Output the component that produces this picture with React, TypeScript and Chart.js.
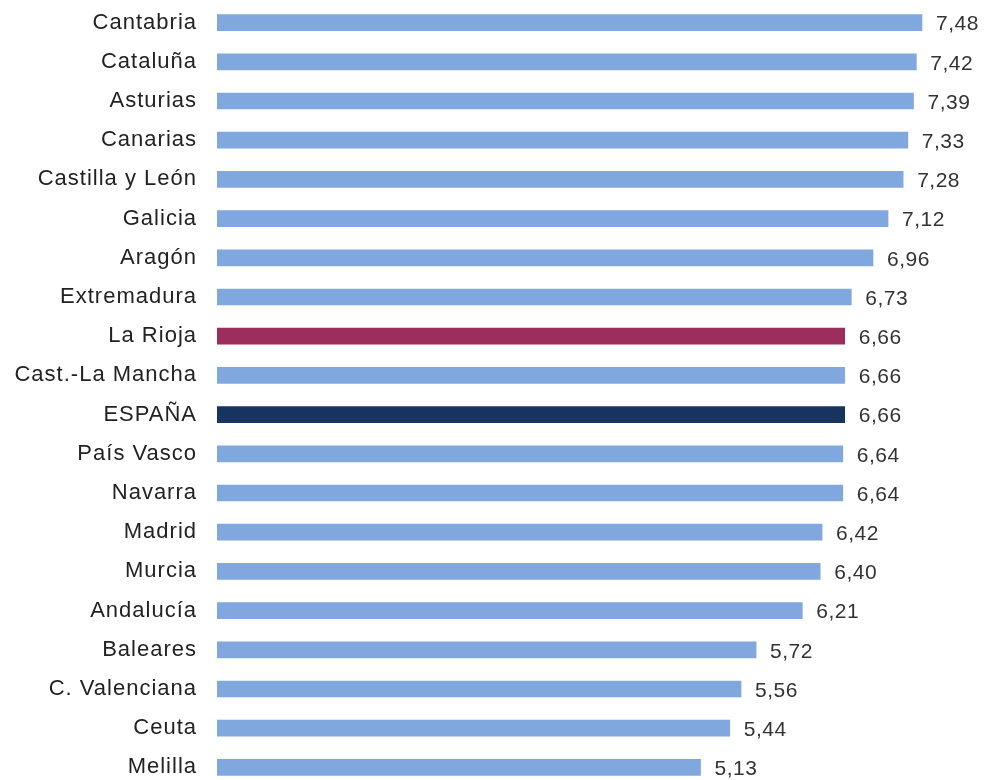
import React, { useEffect, useRef } from "react";
import { Chart, registerables } from "chart.js";

Chart.register(...registerables);

const categories = [
  "Cantabria", "Cataluña", "Asturias", "Canarias", "Castilla y León", "Galicia",
  "Aragón", "Extremadura", "La Rioja", "Cast.-La Mancha", "ESPAÑA", "País Vasco",
  "Navarra", "Madrid", "Murcia", "Andalucía", "Baleares", "C. Valenciana", "Ceuta", "Melilla",
];
const values = [
  7.48, 7.42, 7.39, 7.33, 7.28, 7.12, 6.96, 6.73, 6.66, 6.66, 6.66, 6.64,
  6.64, 6.42, 6.40, 6.21, 5.72, 5.56, 5.44, 5.13,
];
const valueLabels = [
  "7,48", "7,42", "7,39", "7,33", "7,28", "7,12", "6,96", "6,73", "6,66", "6,66",
  "6,66", "6,64", "6,64", "6,42", "6,40", "6,21", "5,72", "5,56", "5,44", "5,13",
];

const BLUE = "#80a8de";
const RIOJA = "#9c2d5c";
const SPAIN = "#17335f";
const FONT = "'Liberation Sans', Arial, Helvetica, sans-serif";

const barColors = categories.map((c) =>
  c === "La Rioja" ? RIOJA : c === "ESPAÑA" ? SPAIN : BLUE
);

const spacingPlugin = {
  id: "labelSpacing",
  beforeDraw(chart: any) {
    chart.ctx.letterSpacing = "1px";
  },
  afterDraw(chart: any) {
    chart.ctx.letterSpacing = "0px";
  },
};

const valueLabelPlugin = {
  id: "valueLabels",
  afterDatasetsDraw(chart: any) {
    const ctx = chart.ctx;
    const meta = chart.getDatasetMeta(0);
    ctx.save();
    ctx.letterSpacing = "0.5px";
    ctx.font = `21px ${FONT}`;
    ctx.fillStyle = "#333333";
    ctx.textAlign = "left";
    ctx.textBaseline = "middle";
    meta.data.forEach((bar: any, i: number) => {
      ctx.fillText(valueLabels[i], bar.x + 14, bar.y + 2);
    });
    ctx.restore();
  },
};

export default function App() {
  const ref = useRef<HTMLCanvasElement | null>(null);

  useEffect(() => {
    if (!ref.current) return;
    const chart = new Chart(ref.current, {
      type: "bar",
      data: {
        labels: categories,
        datasets: [
          {
            data: values,
            backgroundColor: barColors,
            borderWidth: 0,
            barThickness: 16,
          },
        ],
      },
      options: {
        indexAxis: "y",
        responsive: false,
        animation: false,
        layout: { padding: { top: 3, bottom: 3, right: 16, left: 0 } },
        plugins: {
          legend: { display: false },
          tooltip: { enabled: false },
        },
        scales: {
          x: {
            display: false,
            min: 0,
            max: 8,
          },
          y: {
            grid: { display: false, drawTicks: false },
            border: { display: false },
            ticks: {
              color: "#222222",
              padding: 20,
              font: { size: 22, family: FONT },
            },
            afterFit(scale: any) {
              scale.width = 217;
              scale.paddingTop = 0;
              scale.paddingBottom = 0;
            },
          },
        },
      },
      plugins: [spacingPlugin, valueLabelPlugin],
    });
    return () => chart.destroy();
  }, []);

  return (
    <div
      style={{
        position: "absolute",
        left: 0,
        top: 0,
        width: 987,
        height: 780,
        overflow: "hidden",
        background: "#ffffff",
      }}
    >
      <canvas ref={ref} width={987} height={790} style={{ display: "block" }} />
    </div>
  );
}
